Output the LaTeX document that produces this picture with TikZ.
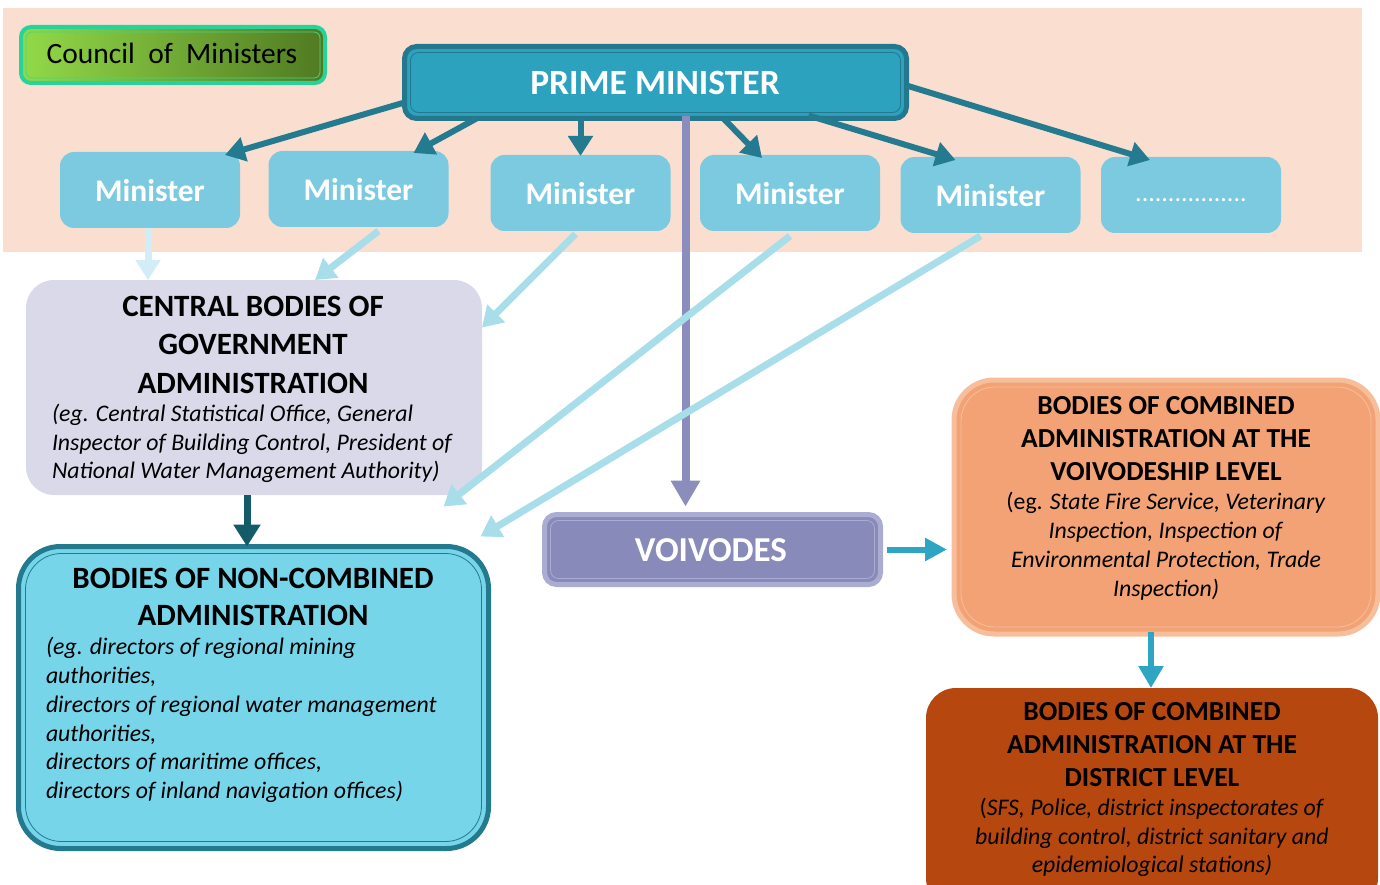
\documentclass[tikz,border=0pt]{standalone}
\usepackage{fontspec}
\setmainfont{Carlito}
\usetikzlibrary{arrows.meta,calc}
\definecolor{peach}{RGB}{250,223,209}
\definecolor{pmfill}{RGB}{45,162,191}
\definecolor{pmborder}{RGB}{35,120,141}
\definecolor{minfill}{RGB}{123,202,224}
\definecolor{cenfill}{RGB}{217,217,233}
\definecolor{ncfill}{RGB}{119,213,234}
\definecolor{ncborder}{RGB}{35,122,142}
\definecolor{vofill}{RGB}{136,139,185}
\definecolor{voborder}{RGB}{170,172,210}
\definecolor{cbfill}{RGB}{242,162,116}
\definecolor{cbborder}{RGB}{247,190,156}
\definecolor{dsfill}{RGB}{181,71,15}
\definecolor{cmborder}{RGB}{38,211,154}
\definecolor{cmleft}{RGB}{146,218,72}
\definecolor{cmright}{RGB}{80,122,34}
\definecolor{darrow}{RGB}{36,122,142}
\definecolor{larrow}{RGB}{167,222,234}
\definecolor{llarrow}{RGB}{210,237,245}
\definecolor{parrow}{RGB}{139,141,189}
\definecolor{narrow}{RGB}{19,91,104}
\definecolor{barrow}{RGB}{46,166,195}
\newcommand\setfs[2]{\fontsize{#1}{#2}\selectfont}
\tikzset{
  box/.style={inner sep=0pt, outer sep=0pt},
  minbox/.style={box, fill=minfill, rounded corners=14pt, minimum width=180pt, minimum height=76pt},
  mintext/.style={text=white, font=\setfs{31.5}{36}\bfseries},
  pmarr/.style={draw=darrow, line width=6pt, -{Triangle[length=20pt,width=24pt]}},
  larr/.style={draw=larrow, line width=7pt, -{Triangle[length=20pt,width=24pt]}},
  innerline/.style={line width=0.8pt},
}
\begin{document}
\begin{tikzpicture}[x=1pt,y=-1pt]
\useasboundingbox (0,0) rectangle (1380,885);
\fill[white] (0,0) rectangle (1380,885);
\fill[peach] (3,8) rectangle (1362,252);

% Council of Ministers
\node[box, draw=cmborder, line width=4pt, left color=cmleft, right color=cmright, rounded corners=10pt, minimum width=304pt, minimum height=56pt] (cm) at (173,55) {};
\draw[innerline, draw=cmborder!70!cmleft, rounded corners=6pt] ($(cm.north west)+(5,5)$) rectangle ($(cm.south east)+(-5,-5)$);
\node[box, font=\setfs{29.5}{34}, text=black] (cmt) at (172,53) {Council\ \ of\ \ Ministers};

% Prime minister
\node[box, draw=pmborder, line width=5pt, fill=pmfill, rounded corners=12pt, minimum width=502pt, minimum height=72pt] (pm) at (655.5,82.5) {};
\draw[innerline, draw=pmborder, rounded corners=8pt] ($(pm.north west)+(6,6)$) rectangle ($(pm.south east)+(-6,-6)$);
\node[box, text=white, font=\setfs{35.5}{40}\bfseries] (pmt) at (655,83) {PRIME MINISTER};

% Ministers
\node[minbox] (m1) at (150,190) {};
\node[minbox] (m2) at (358.5,189) {};
\node[minbox] (m3) at (580.5,193) {};
\node[minbox] (m4) at (790,193) {};
\node[minbox] (m5) at (990.5,195) {};
\node[minbox] (m6) at (1191,195) {};
\node[mintext] (m1t) at (150,191) {Minister};
\node[mintext] (m2t) at (358.5,190) {Minister};
\node[mintext] (m3t) at (580.5,194) {Minister};
\node[mintext] (m4t) at (790,194) {Minister};
\node[mintext] (m5t) at (990.5,196) {Minister};
\node[box, text=white, font=\setfs{26}{30}] (m6t) at (1191,200) {.................};

% Central bodies
\node[box, fill=cenfill, rounded corners=28pt, minimum width=456pt, minimum height=215pt] (cen) at (254,387.5) {};
\node[box, align=center, font=\setfs{31}{38.5}\bfseries] (cent) at (253,344.5) {CENTRAL BODIES OF\\GOVERNMENT\\ADMINISTRATION};
\node[box, align=left, anchor=west, font=\setfs{23.8}{28.5}\itshape] (cenb) at (52,443.5) {(eg. Central Statistical Office, General\\Inspector of Building Control, President of\\National Water Management Authority)};

% Non-combined
\node[box, draw=ncborder, line width=5pt, fill=ncfill, rounded corners=42pt, minimum width=470pt, minimum height=302pt] (nc) at (253.5,697.5) {};
\draw[innerline, draw=ncborder, rounded corners=36pt] ($(nc.north west)+(7,7)$) rectangle ($(nc.south east)+(-7,-7)$);
\node[box, align=center, font=\setfs{31}{37}\bfseries] (nct) at (253,596.5) {BODIES OF NON-COMBINED\\ADMINISTRATION};
\node[box, align=left, anchor=west, font=\setfs{23.8}{28.8}\itshape] (ncb) at (46,720) {(eg. directors of regional mining\\authorities,\\directors of regional water management\\authorities,\\directors of maritime offices,\\directors of inland navigation offices)};

% Voivodes
\node[box, draw=voborder, line width=5pt, fill=vofill, rounded corners=12pt, minimum width=336pt, minimum height=70pt] (vo) at (712.5,549.5) {};
\draw[innerline, draw=voborder, rounded corners=8pt] ($(vo.north west)+(6,6)$) rectangle ($(vo.south east)+(-6,-6)$);
\node[box, text=white, font=\setfs{35}{38}\bfseries] (vot) at (711,550) {VOIVODES};

% Combined voivodeship
\node[box, draw=cbborder, line width=5pt, fill=cbfill, rounded corners=40pt, minimum width=424pt, minimum height=254pt] (cb) at (1166,507) {};
\draw[innerline, draw=cbborder, rounded corners=34pt] ($(cb.north west)+(7,7)$) rectangle ($(cb.south east)+(-7,-7)$);
\node[box, align=center, font=\setfs{27.5}{33}\bfseries] (cbt) at (1166,439) {BODIES OF COMBINED\\ADMINISTRATION AT THE\\VOIVODESHIP LEVEL};
\node[box, align=center, font=\setfs{23.8}{29}] (cbb) at (1166,546.5) {(eg. \textit{State Fire Service, Veterinary}\\\textit{Inspection, Inspection of}\\\textit{Environmental Protection, Trade}\\\textit{Inspection)}};

% District
\node[box, fill=dsfill, rounded corners=30pt, minimum width=452pt, minimum height=220pt] (ds) at (1152,798) {};
\node[box, align=center, font=\setfs{27.5}{33}\bfseries] (dst) at (1152,745) {BODIES OF COMBINED\\ADMINISTRATION AT THE\\DISTRICT LEVEL};
\node[box, align=center, font=\setfs{23.8}{28.5}] (dsb) at (1152,837.5) {(\textit{SFS, Police, district inspectorates of}\\\textit{building control, district sanitary and}\\\textit{epidemiological stations)}};

% Arrows from Prime Minister to ministers
\draw[pmarr] ([yshift=-20pt]pm.west) -- ([xshift=-15pt,yshift=-3pt]m1.north east);
\draw[pmarr] ([xshift=72pt]pm.south west) -- ([xshift=-35pt,yshift=-2pt]m2.north east);
\draw[pmarr] (pm.south -| m3.north) -- ([yshift=-1pt]m3.north);
\draw[pmarr] ([xshift=319pt]pm.south west) -- ([xshift=62pt,yshift=-3pt]m4.north west);
\draw[pmarr] ([xshift=-98pt,yshift=3pt]pm.south east) -- ([xshift=55pt,yshift=-3pt]m5.north west);
\draw[pmarr] ([yshift=-3pt]pm.east) -- ([xshift=49pt,yshift=-3pt]m6.north west);

% Prime minister to voivodes
\coordinate (vtop) at ([xshift=-27pt,yshift=8pt]vo.north);
\draw[draw=parrow, line width=8pt, -{Triangle[length=26pt,width=28pt]}] ([yshift=2pt]pm.south -| vtop) -- (vtop);

% Ministers to central bodies / non-combined
\draw[draw=llarrow, line width=7pt, -{Triangle[length=20pt,width=24pt]}] ([xshift=-2pt]m1.south) -- ([xshift=-2pt]m1.south |- cen.north);
\draw[larr] ([xshift=20pt,yshift=-4pt]m2.south) -- ([xshift=289pt]cen.north west);
\draw[larr] ([xshift=-5pt,yshift=-3pt]m3.south) -- ([yshift=60pt]cen.east);
\draw[larr] ([yshift=-5pt]m4.south) -- ([xshift=-45pt,yshift=40pt]nc.north east);
\draw[larr] ([xshift=-10pt,yshift=-3pt]m5.south) -- ([xshift=-8pt,yshift=10pt]nc.north east);

% Central to non-combined
\draw[draw=narrow, line width=7pt, -{Triangle[length=22pt,width=26pt]}] ([xshift=-7pt]cen.south) -- ([xshift=-7pt]cen.south |- nc.north);

% Voivodes to combined, combined to district
\draw[draw=barrow, line width=6pt, -{Triangle[length=22pt,width=22pt]}] ([xshift=6pt]vo.east) -- ([xshift=-7pt]vo.east -| cb.west);
\draw[draw=barrow, line width=6pt, -{Triangle[length=22pt,width=24pt]}] ([xshift=-15pt,yshift=2pt]cb.south) -- ([xshift=-15pt]cb.south |- ds.north);
\end{tikzpicture}
\end{document}
